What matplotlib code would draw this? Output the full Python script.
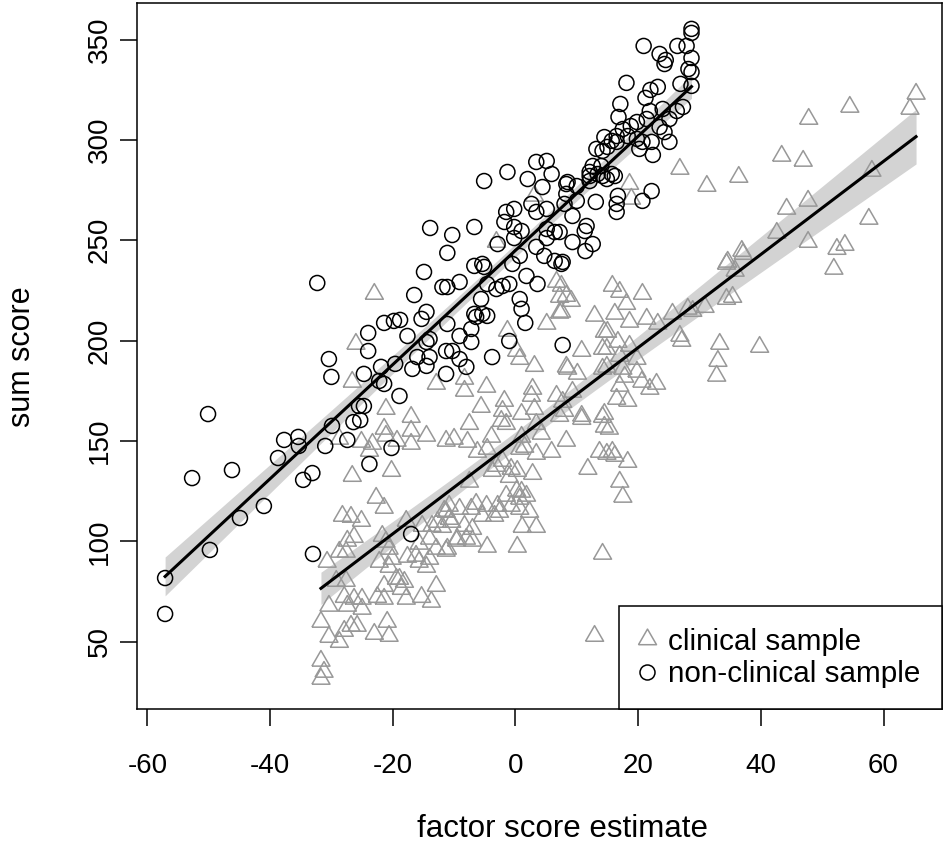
import numpy as np
import matplotlib
matplotlib.use("Agg")
import matplotlib.pyplot as plt
from matplotlib.lines import Line2D

plt.rcParams['font.family'] = ['Liberation Sans', 'DejaVu Sans']

# non-clinical sample (circles): factor score estimate, sum score
nonclin_x = [-57.1, -57.1, -52.7, -50.1, -49.8, -46.2, -44.9, -41.0, -38.7, -37.7, -35.4, -35.3, -34.6, -33.1,
             -32.3, -33.0, -31.0, -29.9, -30.4, -30.0, -27.4, -26.4, -25.3, -25.5, -24.7, -24.0, -24.0, -23.8,
             -24.7, -21.9, -21.4, -19.8, -18.8, -19.6, -22.2, -21.4, -18.9, -20.2, -17.0, -16.5, -14.9, -11.9,
             -11.1, -14.5, -15.3, -17.6, -14.0, -14.5, -16.0, -14.0, -11.3, -16.8, -14.5, -11.3, -13.9, -10.3,
             -6.7, -11.1, -2.9, 0.7, 3.4, 4.7, 6.4, 7.5, -0.5, -6.7, -5.4, -5.1, 1.8, 3.6, -9.1, -4.6, -3.1,
             -2.1, -1.0, -5.6, 0.7, 1.0, -6.7, -5.4, 3.4, 5.1, -1.3, -5.1, 2.0, 5.9, 4.4, 8.3, -1.5, -0.2, 2.6,
             3.4, 5.1, 8.0, -1.8, -0.2, 1.0, -0.2, 5.1, 6.4, 5.1, -11.1, -9.1, -7.2, -7.2, -6.4, -4.6, -10.3,
             -9.1, -8.0, -3.8, -1.0, 1.6, 7.7, 8.3, 10.0, 12.1, 14.2, 16.2, 10.0, 9.3, 13.1, 16.7, 16.5, 16.5,
             20.7, 22.2, 11.6, 11.3, 7.2, 9.3, 12.6, 11.4, 7.7, 28.7, 28.7, 20.9, 26.4, 27.9, 23.5, 24.5, 24.3,
             28.7, 28.2, 28.7, 18.1, 26.9, 28.7, 22.0, 23.2, 21.2, 17.1, 27.3, 26.3, 21.9, 24.0, 16.8, 25.1,
             19.8, 18.8, 21.4, 23.5, 24.3, 17.5, 16.5, 14.5, 15.7, 18.3, 19.8, 20.7, 22.2, 25.1, 13.2, 14.2,
             15.0, 16.5, 20.2, 22.4, 12.6, 14.0, 12.1, 13.4, 15.7, 8.5, 12.1, 14.9]
nonclin_y = [81.7, 63.8, 131.5, 163.4, 95.7, 135.5, 111.6, 117.6, 141.5, 150.5, 152.0, 147.5, 130.6, 134.0,
             228.7, 93.7, 147.5, 157.5, 190.8, 181.9, 150.5, 159.4, 160.4, 167.4, 167.4, 203.8, 194.8, 138.5,
             183.4, 186.9, 208.8, 209.8, 210.3, 188.4, 179.9, 178.4, 172.4, 146.5, 103.6, 222.7, 234.2, 226.7,
             226.7, 214.3, 210.8, 202.3, 200.8, 199.3, 191.8, 191.8, 194.8, 185.9, 187.4, 183.4, 256.1, 252.6,
             256.6, 243.7, 248.1, 242.2, 246.7, 242.2, 239.7, 238.2, 238.2, 237.2, 238.2, 236.7, 232.2, 228.2,
             229.2, 228.2, 225.7, 227.2, 228.2, 220.7, 220.7, 215.8, 213.3, 213.3, 289.0, 289.5, 284.0, 279.5,
             280.5, 283.0, 276.5, 278.0, 264.1, 265.6, 268.1, 264.1, 265.6, 268.1, 259.1, 256.6, 254.6, 251.1,
             255.6, 254.1, 251.1, 208.3, 202.3, 205.8, 199.3, 211.8, 212.3, 194.8, 190.8, 186.9, 191.8, 199.8,
             208.8, 197.8, 273.1, 277.0, 282.0, 282.0, 282.0, 269.6, 262.1, 269.1, 272.1, 268.1, 264.1, 269.6,
             274.5, 257.1, 254.6, 254.1, 249.1, 248.1, 244.6, 239.2, 355.3, 353.3, 346.8, 346.8, 346.8, 342.8,
             339.8, 337.8, 340.8, 335.3, 333.8, 328.4, 327.9, 326.9, 324.9, 326.4, 320.9, 317.9, 316.4, 314.4,
             314.4, 315.4, 311.4, 310.4, 308.9, 306.9, 310.4, 306.4, 303.9, 305.4, 301.9, 301.4, 299.5, 301.9,
             300.5, 299.0, 299.0, 299.0, 295.5, 294.5, 296.5, 299.0, 295.5, 292.5, 287.0, 287.0, 284.0, 283.0,
             283.0, 279.0, 279.5, 280.5]

# clinical sample (triangles)
clin_x = [-23.0, -26.0, -26.6, -12.9, -21.1, -17.0, -21.4, -17.0, -14.5, -11.3, -28.7, -25.1, -23.3, -21.1,
          -19.3, -17.0, -23.8, -20.2, -26.6, -22.7, -21.4, -28.2, -26.8, -25.1, -26.3, -27.4, -21.7, -28.7,
          -30.7, -22.2, -20.6, -29.2, -27.6, -21.4, -18.9, -18.1, -12.9, -27.9, -26.3, -25.0, -30.4, -27.4,
          -25.0, -22.5, -21.4, -17.8, -15.3, -13.7, -31.7, -26.8, -25.8, -20.9, -30.4, -27.9, -23.0, -20.6,
          -28.7, -31.7, -31.2, -31.7, -27.6, -21.1, -20.6, -20.1, -17.6, -16.2, -15.7, -14.5, -14.0, -12.9,
          -11.3, -14.0, -15.7, -15.2, -13.6, -12.7, -11.9, -11.3, -10.8, -9.6, -17.8, -19.4, -18.6,
          -1.3, 5.1, 7.2, 12.9, 14.5, 0.2, 0.7, 3.1, 10.8, 8.5, 10.1, 14.2, -8.3, -8.3, -4.7, 2.8, 2.6, 6.7,
          9.3, 14.2, -5.6, -1.8, -2.1, 1.0, 3.1, 7.2, 10.8, 14.2, -7.5, -2.3, -1.5, 3.4, -10.0, -7.8, -3.9,
          1.0, 4.2, 8.3, 14.5, -6.2, -4.6, 0.7, 1.5, 3.4, 5.9, 13.7, 14.9, -3.1, -2.1, -0.7, 0.3, -3.8, 2.8,
          11.8, -7.5, -1.0, 0.2, 1.0, -1.5, 0.7, 1.8, -6.4, -4.7, -2.9, -10.8, -9.1, -0.7, 0.7, -2.6, -3.4,
          -5.4, -7.2, -11.6, 2.3, -10.4, -8.3, -7.0, 1.1, 3.4, -9.5, -8.0, -7.0, -4.6, -11.1, 0.3, 14.2,
          26.8, 18.6, 31.2, 18.9, 34.4, 15.8, 17.0, 20.7, 7.5, 9.1, 18.1, 16.2, 18.6, 21.4, 23.2, 25.6, 28.1,
          30.9, 7.5, 15.0, 26.8, 27.1, 33.3, 16.7, 18.6, 14.9, 17.0, 19.8, 33.0, 8.3, 14.9, 17.5, 17.8, 19.8,
          32.8, 20.6, 23.0, 21.9, 17.0, 16.5, 18.3, 7.7, 10.8, 14.5, 7.2, 34.4,
          65.3, 64.3, 54.5, 47.8, 43.4, 46.9, 36.4, 58.1, 47.7, 44.2, 57.6, 42.6, 47.7, 52.4, 53.7, 51.9,
          36.9, 37.1, 34.6, 35.8, 35.4, 28.9, 39.8,
          8.0, 15.3, 15.8, 16.2, 18.3, 17.0, 17.5, 12.9, 3.1, -3.1, 6.7, 8.3]
clin_y = [223.2, 198.3, 179.4, 178.4, 165.9, 161.9, 156.0, 155.0, 152.5, 150.0, 151.0, 149.5, 148.5, 152.5,
          150.0, 148.5, 145.0, 135.0, 132.5, 121.6, 116.6, 112.6, 112.1, 110.1, 102.1, 100.2, 102.6, 94.7,
          89.7, 89.7, 87.2, 80.2, 80.2, 77.7, 81.2, 79.7, 77.7, 72.2, 71.3, 71.3, 67.8, 67.8,
          66.3, 72.2, 71.3, 71.3, 72.2, 69.8, 59.8, 57.8, 57.8, 59.8, 52.3, 55.3, 53.8, 52.8,
          49.8, 40.4, 34.9, 31.4, 94.7, 99.7, 96.2, 91.2, 92.2, 92.7, 89.7, 87.2, 91.2, 96.2,
          95.2, 101.2, 98.7, 107.6, 107.6, 109.6, 107.1, 114.6, 111.1, 100.2, 110.1, 81.2, 76.2,
          204.8, 208.3, 213.8, 212.3, 204.3, 194.8, 190.8, 187.3, 194.8, 185.9, 183.4, 195.8, 180.9, 174.9,
          176.9, 175.9, 172.4, 172.4, 174.4, 185.9, 166.9, 169.9, 164.9, 163.4, 165.9, 162.4, 160.9, 161.9,
          158.4, 159.9, 158.4, 158.4, 151.0, 149.5, 152.0, 152.0, 153.5, 150.0, 157.0, 144.5, 146.0, 146.0,
          147.0, 143.5, 144.5, 144.5, 143.5, 137.5, 140.0, 136.0, 135.0, 135.0, 133.5, 136.0, 129.6, 132.0,
          125.1, 124.6, 122.6, 121.1, 122.6, 118.6, 117.6, 117.6, 117.6, 116.1, 117.6, 116.1, 114.6, 112.6,
          112.6, 116.1, 115.1, 114.6, 109.6, 107.6, 106.1, 107.1, 107.1, 101.2, 101.2, 100.2, 97.2, 96.2,
          97.2, 93.7,
          285.5, 278.0, 277.0, 270.6, 238.2, 227.2, 224.2, 223.2, 227.2, 219.7, 218.2, 213.3, 209.3, 210.8,
          208.3, 213.3, 215.8, 216.7, 214.3, 204.3, 202.3, 199.8, 198.3, 199.3, 197.3, 195.8, 192.3, 190.8,
          189.8, 186.9, 186.9, 185.9, 181.9, 184.4, 182.4, 179.4, 178.4, 175.9, 177.4, 170.9, 169.9, 169.4,
          162.4, 163.4, 221.7, 220.7,
          322.9, 315.4, 316.4, 310.4, 292.0, 289.5, 281.5, 284.5, 269.6, 265.6, 260.6, 253.6, 249.1, 245.6,
          247.6, 235.7, 244.6, 243.1, 239.2, 234.7, 221.7, 214.7, 196.8,
          164.9, 156.0, 144.5, 142.5, 139.5, 129.6, 122.1, 52.8, 272.1, 249.1, 229.2, 222.2]

x_ticks = [-60, -40, -20, 0, 20, 40, 60]
y_ticks = [50, 100, 150, 200, 250, 300, 350]
legend_labels = ["clinical sample", "non-clinical sample"]

GRAY = "#989898"
BAND = "#d3d3d3"
# equilateral triangle like R's pch = 2
tri = [(-1.0, -0.577), (1.0, -0.577), (0.0, 1.155), (-1.0, -0.577)]


def lm_band(x, y, n=100):
    x = np.asarray(x)
    y = np.asarray(y)
    b, a = np.polyfit(x, y, 1)
    xs = np.linspace(x.min(), x.max(), n)
    fit = a + b * xs
    resid = y - (a + b * x)
    s2 = np.sum(resid ** 2) / (len(x) - 2)
    sxx = np.sum((x - x.mean()) ** 2)
    se = np.sqrt(s2 * (1 / len(x) + (xs - x.mean()) ** 2 / sxx))
    return xs, fit, fit - 1.97 * se, fit + 1.97 * se


W, H = 945, 846
fig = plt.figure(figsize=(W / 100, H / 100), dpi=100)
left, right, top, bottom = 136.7, 942, 3, 709.3
ax = fig.add_axes([left / W, 1 - bottom / H, (right - left) / W, (bottom - top) / H])

for xs_, ys_ in [(clin_x, clin_y), (nonclin_x, nonclin_y)]:
    xs, fit, lo, hi = lm_band(xs_, ys_)
    ax.fill_between(xs, lo, hi, color=BAND, lw=0, zorder=1)

ax.scatter(clin_x, clin_y, marker=tri, s=15 ** 2, facecolors="none", edgecolors=GRAY,
           linewidths=1.1, zorder=2)
ax.scatter(nonclin_x, nonclin_y, marker="o", s=10.8 ** 2, facecolors="none", edgecolors="black",
           linewidths=1.1, zorder=2)

for xs_, ys_ in [(clin_x, clin_y), (nonclin_x, nonclin_y)]:
    xs, fit, lo, hi = lm_band(xs_, ys_)
    ax.plot(xs, fit, color="black", lw=2.2, zorder=3)

ax.set_xlim(-61.73, 69.53)
ax.set_ylim(16.3, 368.2)
ax.set_xticks(x_ticks)
ax.set_yticks(y_ticks)
ax.set_xticklabels([str(v) for v in x_ticks])
ax.set_yticklabels([str(v) for v in y_ticks], rotation=90, va="center")
ax.tick_params(axis="both", direction="out", length=12.2, width=1.1, labelsize=20)
ax.tick_params(axis="x", pad=19.5)
ax.tick_params(axis="y", pad=5)
for sp in ax.spines.values():
    sp.set_linewidth(1.1)

handles = [Line2D([], [], ls="none", marker=tri, ms=15, mfc="none", mec=GRAY, mew=1.1),
           Line2D([], [], ls="none", marker="o", ms=10.8, mfc="none", mec="black", mew=1.1)]
leg = ax.legend(handles, legend_labels, loc="lower right", bbox_to_anchor=(1, 0), borderaxespad=0,
                fontsize=21.3, frameon=True, fancybox=False, edgecolor="black", framealpha=1,
                handlelength=0.44, handletextpad=0.5, borderpad=0.72, labelspacing=0.15)
leg.get_frame().set_linewidth(1.1)

fig.text(563 / W, 1 - 829 / H, "factor score estimate", ha="center", va="center", fontsize=22.5)
fig.text(22 / W, 1 - 357 / H, "sum score", ha="center", va="center", rotation=90, fontsize=22)

fig.savefig("out.png", dpi=100)
